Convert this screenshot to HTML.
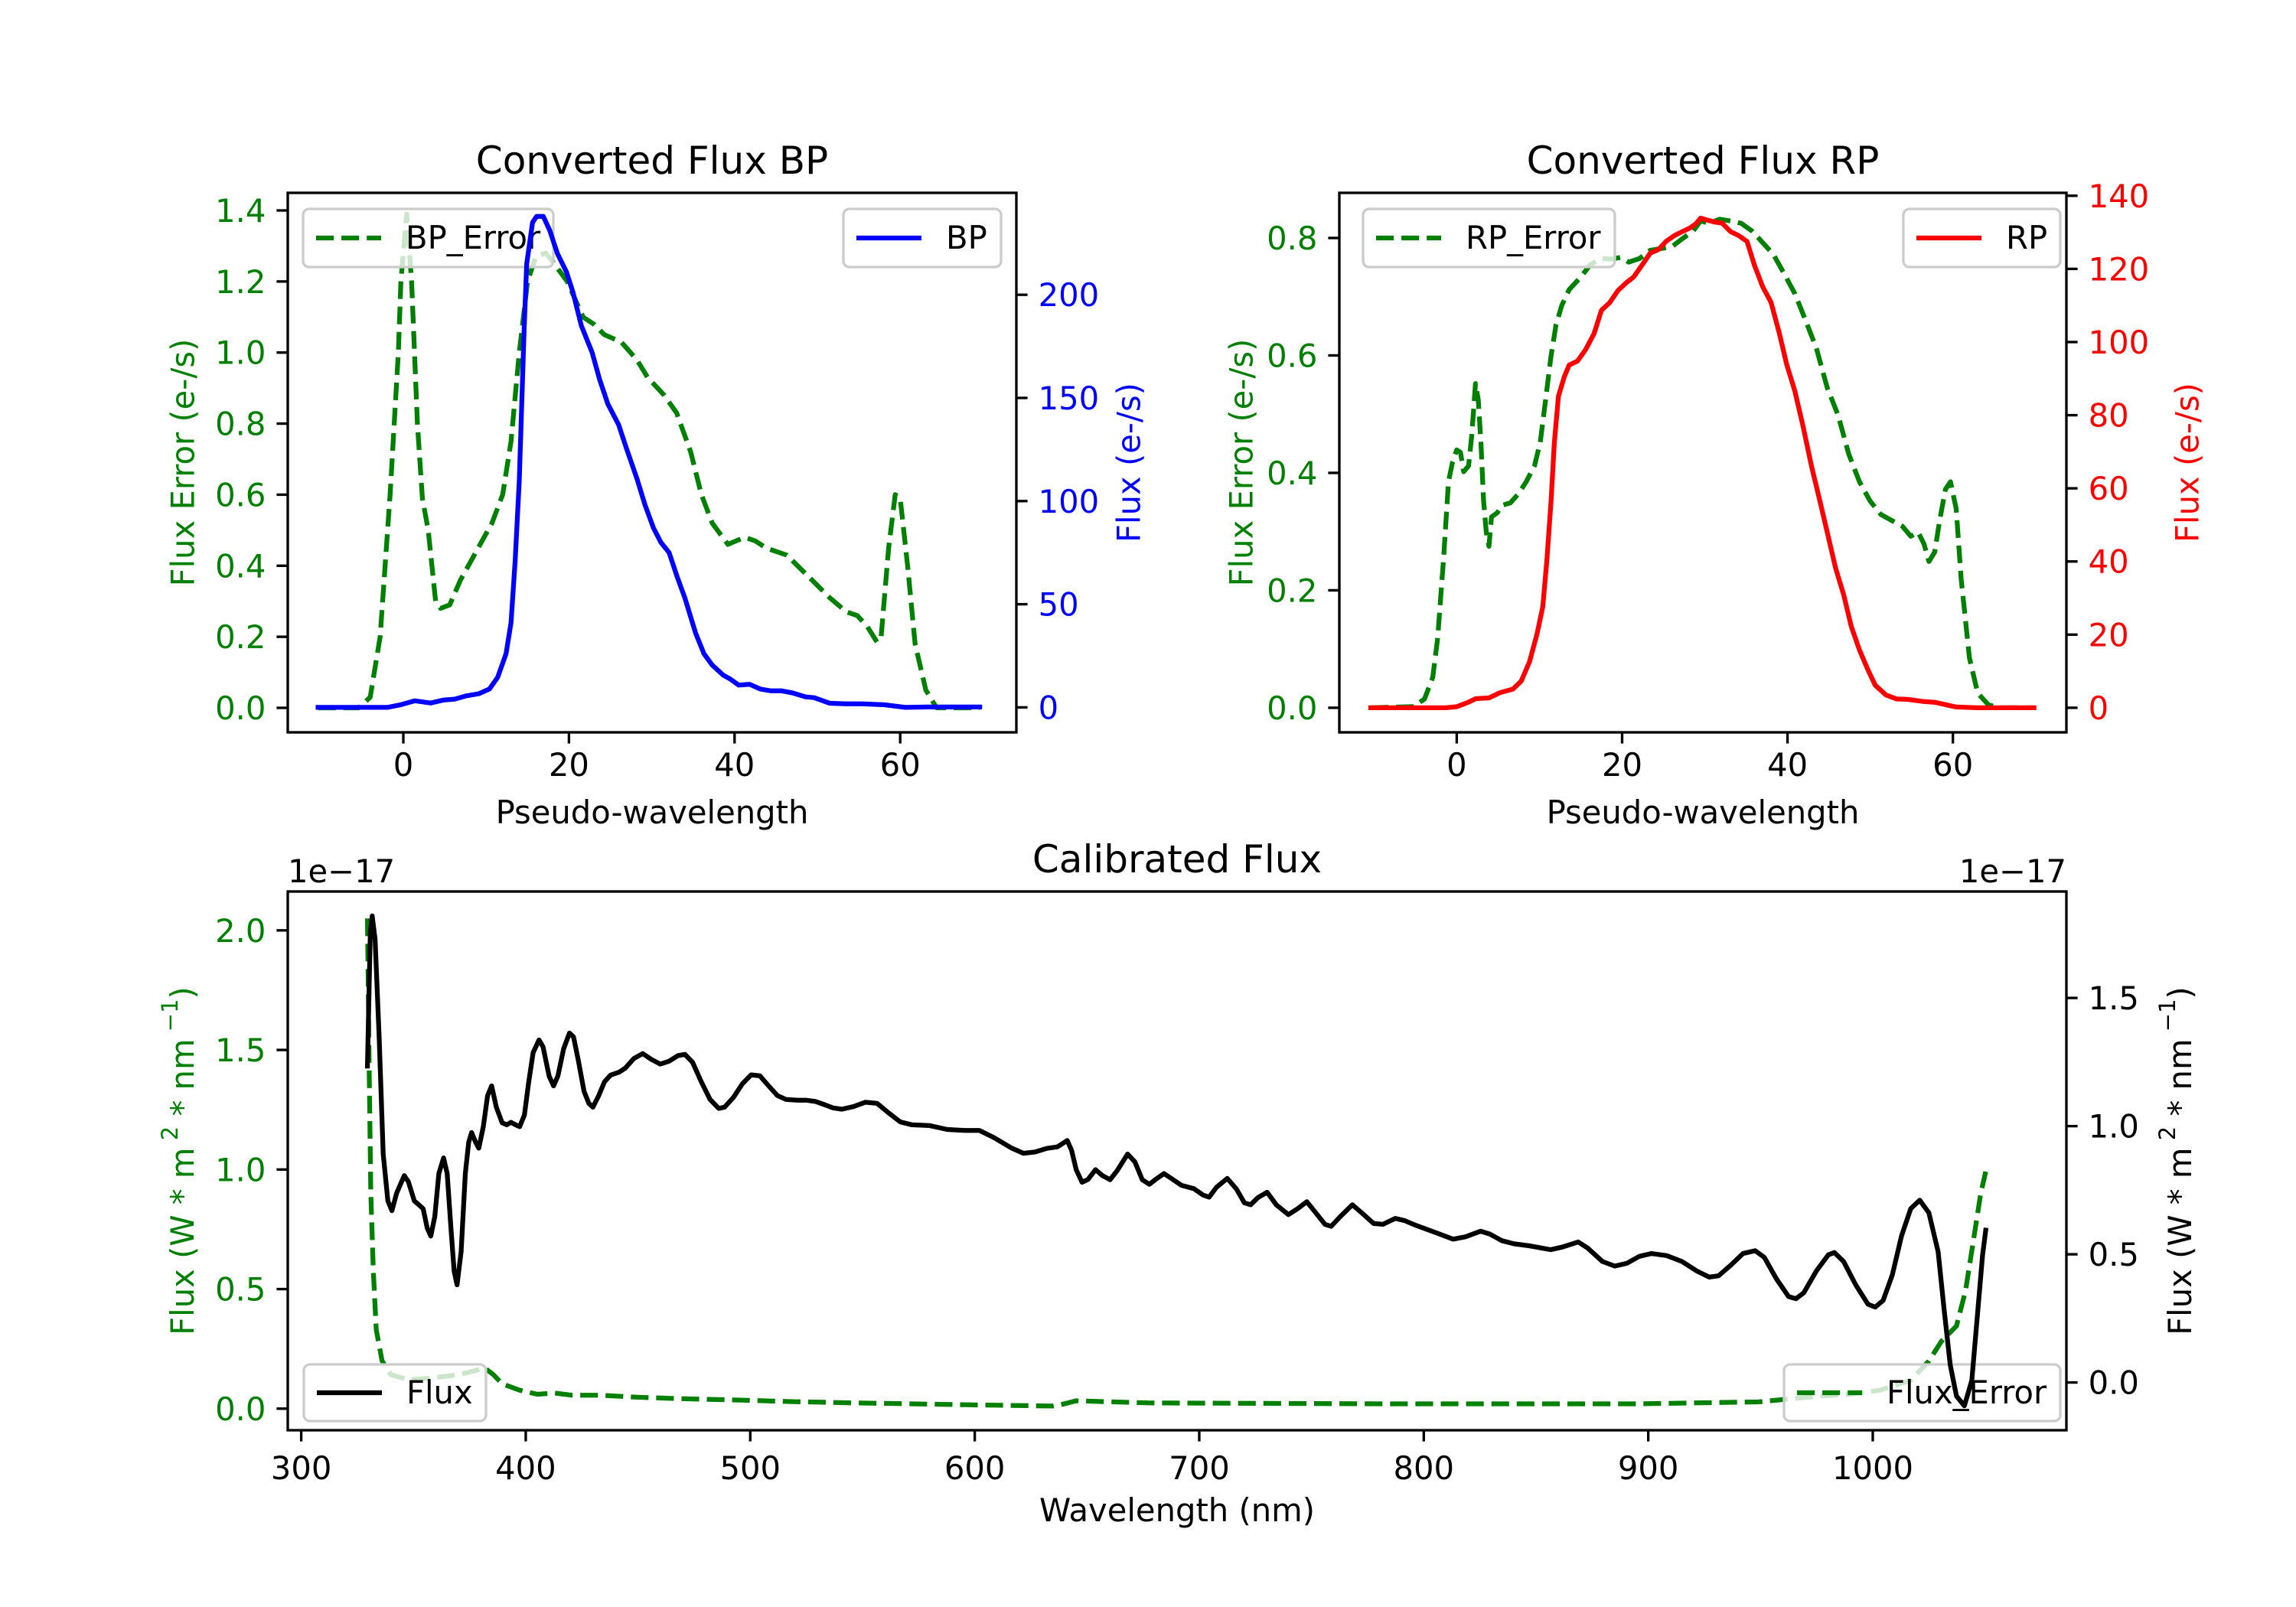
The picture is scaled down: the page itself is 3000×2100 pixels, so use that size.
<!DOCTYPE html>
<html><head><meta charset="utf-8">
<style>
html,body{margin:0;padding:0;background:#fff;}
svg{display:block;font-family:"DejaVu Sans","Liberation Sans",sans-serif;}
</style></head>
<body>
<svg id="fig" width="3000" height="2100" viewBox="0 0 3000 2100" xmlns="http://www.w3.org/2000/svg">
<rect width="3000" height="2100" fill="#fff"/>
</svg>
<script>
// ---------- DATA ----------
const bpErrX = [-10.3,-5.4,-4,-2.8,-1.6,-0.6,-0.3,0.4,1,1.7,2.3,3,3.9,4.5,5.6,6.9,8.8,10.7,12,13,14,15,16,17.2,17.9,19.8,21.7,23,24.3,26.3,28.2,29.5,31.5,33,34.7,36,37.3,39.2,41.2,42.5,43.8,46.3,48.9,51.5,53.5,54.8,56,57.2,57.7,58.6,59.4,60,60.9,61.8,63.1,64.4,69.6];
const bpErrY = [0,0,0.03,0.2,0.6,1.0,1.2,1.39,1.2,0.8,0.59,0.5,0.3,0.28,0.29,0.36,0.44,0.52,0.6,0.75,1.0,1.2,1.27,1.28,1.26,1.2,1.1,1.08,1.05,1.03,0.98,0.93,0.88,0.83,0.72,0.6,0.52,0.46,0.48,0.47,0.45,0.43,0.37,0.31,0.27,0.26,0.23,0.185,0.2,0.45,0.6,0.59,0.4,0.18,0.05,0,0];
const bpX = [-10.3,-1.9,-0.3,1.4,3.3,4.9,6.2,7.5,9.1,10.4,11.4,12.4,13.0,13.5,14.0,14.3,14.6,14.9,15.6,16.1,16.9,17.7,18.6,19.7,20.5,21.5,22.8,23.7,24.7,26.0,26.9,28.2,29.2,30.2,31.1,32.1,33.1,34.0,35.3,36.3,37.3,38.6,39.5,40.5,41.8,43.1,44.4,45.7,47.0,48.6,49.6,51.5,53.5,55.4,58.0,60.6,63.2,69.6];
const bpY = [0,0,1.3,3.2,2.1,3.6,4.0,5.5,6.6,8.9,14.6,26,41,71,110,147,185,215,235,238,238,231,220,211,201,185,172,159,147,137,126,111,98,87,80,75,63,53,36,26,20.5,15.7,13.7,10.8,11.2,8.9,8,8,7,5.1,4.7,2,1.7,1.7,1.3,0,0.2,0.2];
const rpErrX = [-10.4,-5.2,-3.9,-2.9,-2.3,-1.6,-1.0,-0.5,0,0.45,0.84,1.43,1.82,2.27,2.6,2.92,3.25,3.57,3.9,4.2,4.9,5.5,6.5,7.5,8.4,9.4,10.1,10.7,11.4,12.0,12.7,13.6,14.9,16.2,17.5,18.8,19.8,20.8,22.1,23.4,24.7,26.0,27.3,28.6,29.5,30.5,31.8,33.1,34.4,35.7,37.0,38.3,39.6,40.9,42.2,43.5,44.8,46.1,47.4,48.7,50.0,51.3,52.6,53.9,54.9,55.8,56.5,57.1,57.8,58.4,59.1,59.7,60.4,61.0,62.0,63.0,64.3,65.6,69.8];
const rpErrY = [0,0.002,0.015,0.052,0.119,0.252,0.385,0.419,0.439,0.435,0.402,0.412,0.465,0.552,0.525,0.452,0.352,0.299,0.275,0.325,0.332,0.345,0.349,0.365,0.385,0.412,0.452,0.519,0.599,0.652,0.685,0.712,0.732,0.755,0.765,0.764,0.767,0.759,0.765,0.779,0.782,0.785,0.799,0.812,0.829,0.825,0.832,0.829,0.825,0.812,0.792,0.772,0.739,0.705,0.659,0.612,0.545,0.499,0.432,0.385,0.352,0.329,0.319,0.309,0.292,0.299,0.279,0.249,0.265,0.319,0.372,0.385,0.339,0.219,0.085,0.025,0.005,0,0];
const rpX = [-10.4,-1.3,0,1.3,2.3,3.9,5.2,6.8,7.8,8.8,9.7,10.4,10.9,11.4,11.8,12.3,13.0,13.6,14.6,15.6,16.6,17.5,18.5,19.5,20.5,21.4,22.4,23.4,24.4,25.3,26.3,27.3,28.2,28.9,29.5,30.2,31.2,32.1,33.1,34.1,35.1,36.0,37.0,38.0,39.0,39.9,40.9,41.9,42.9,43.8,44.8,45.8,46.8,47.7,48.7,49.7,50.6,51.9,53.2,54.5,56.5,57.8,60.4,63.0,69.8];
const rpY = [0,0,0.3,1.4,2.5,2.7,4.1,5.1,7.3,12.6,20.1,27.6,40.4,56.4,72.4,85.2,90.5,93.7,94.8,98.0,102.3,108.7,110.8,114.1,116.2,117.8,121.0,124.3,125.3,127.5,129.1,130.2,131.2,132.3,133.9,133.4,132.8,132.5,130.2,129.1,127.5,121.0,115.1,110.9,102.5,93.9,86.5,76.8,66.1,57.6,48.0,38.3,30.8,22.3,15.8,10.5,6.2,3.5,2.4,2.3,1.7,1.5,0.2,0,0];
const calWave = [329.5,330.8,331.6,332.9,334.7,336.5,338.6,340.4,342.5,345.9,347.7,350.4,352.4,354.3,356.1,357.7,359.5,361.3,363.4,365.0,366.8,368.1,369.4,371.2,373.1,374.6,375.9,377.7,379.1,381.1,383.0,384.8,386.9,389.5,391.6,393.4,395.5,397.3,399.4,401.2,403.3,405.9,407.7,410.4,412.4,414.3,416.9,419.5,421.3,423.4,426.0,428.1,429.9,432.5,435.1,437.8,441.7,444.3,448.2,452.1,456.0,459.9,463.8,467.8,470.9,474.3,478.2,482.1,486.0,488.6,492.5,496.5,500.4,504.3,508.2,512.1,516.0,521.2,525.1,529.1,533.0,536.9,540.8,546.0,551.2,556.5,561.7,566.9,572.1,579.9,587.8,595.6,602.1,608.6,616.5,621.7,626.9,632.1,636.8,641.2,643.1,645.2,647.8,650.4,653.8,656.9,660.3,663.4,668.1,671.3,674.6,677.8,680.4,684.3,688.2,692.1,697.6,701.7,704.4,707.6,712.5,716.6,720.1,722.9,726.1,730.2,734.3,739.7,743.8,747.9,751.9,756.0,758.7,762.8,768.2,772.3,777.7,781.8,787.3,791.3,796.8,804.9,813.1,818.5,825.3,829.4,834.8,840.2,847.0,856.5,862.0,868.8,872.9,879.6,885.1,890.5,896.0,901.4,908.2,915.0,921.8,927.2,931.3,936.7,942.2,947.6,951.7,957.1,962.5,965.8,969.3,974.8,980.2,982.9,987.0,992.4,997.9,1001.1,1004.6,1008.7,1012.8,1016.9,1020.9,1025.0,1029.1,1031.8,1034.5,1037.3,1040.8,1044.1,1046.8,1048.9,1050.3];
const calFlux = [1.234,1.759,1.820,1.729,1.348,0.891,0.708,0.670,0.739,0.807,0.784,0.708,0.693,0.678,0.602,0.571,0.647,0.815,0.876,0.815,0.586,0.434,0.381,0.510,0.815,0.937,0.975,0.937,0.914,0.998,1.119,1.157,1.074,1.013,1.005,1.015,1.005,0.998,1.043,1.165,1.287,1.336,1.310,1.195,1.157,1.195,1.302,1.363,1.348,1.257,1.135,1.089,1.074,1.119,1.173,1.199,1.211,1.226,1.264,1.283,1.260,1.242,1.253,1.275,1.280,1.249,1.173,1.104,1.069,1.074,1.112,1.165,1.200,1.196,1.157,1.119,1.104,1.101,1.101,1.096,1.084,1.071,1.066,1.076,1.093,1.089,1.051,1.016,1.005,1.002,0.987,0.983,0.983,0.955,0.914,0.894,0.899,0.913,0.919,0.944,0.906,0.830,0.781,0.792,0.830,0.807,0.791,0.826,0.891,0.861,0.791,0.773,0.791,0.815,0.792,0.769,0.756,0.731,0.723,0.761,0.796,0.754,0.701,0.693,0.721,0.742,0.693,0.655,0.678,0.705,0.662,0.617,0.609,0.647,0.693,0.662,0.620,0.617,0.640,0.632,0.612,0.586,0.559,0.568,0.590,0.579,0.553,0.541,0.533,0.518,0.529,0.548,0.525,0.472,0.454,0.465,0.492,0.503,0.495,0.472,0.434,0.411,0.416,0.457,0.503,0.514,0.488,0.404,0.335,0.327,0.350,0.434,0.498,0.507,0.472,0.381,0.305,0.294,0.320,0.419,0.571,0.678,0.711,0.662,0.510,0.282,0.069,-0.053,-0.091,0.008,0.282,0.495,0.594];
const errWave = [329.5,330.3,331.0,332.1,333.4,336.0,339.9,347.7,355.6,366.0,373.8,381.7,385.6,389.5,397.3,405.1,413.0,420.8,433.8,446.9,467.8,493.8,519.9,546.0,572.1,598.2,634.7,639.9,645.2,677.2,785.9,894.6,948.9,976.1,989.7,1003.3,1016.9,1025.0,1030.5,1037.3,1041.3,1045.4,1048.1,1050.3];
const errFlux = [2.05,1.39,0.90,0.575,0.33,0.2,0.142,0.121,0.126,0.137,0.150,0.170,0.142,0.104,0.077,0.060,0.065,0.056,0.056,0.049,0.042,0.036,0.029,0.024,0.020,0.016,0.011,0.020,0.033,0.024,0.020,0.020,0.028,0.052,0.060,0.077,0.118,0.199,0.281,0.346,0.493,0.738,0.901,0.991];
const pwTicks = [0,20,40,60];
const bpErrTicks = [0,0.2,0.4,0.6,0.8,1.0,1.2,1.4];
const bpTicks = [0,50,100,150,200];
const rpErrTicks = [0,0.2,0.4,0.6,0.8];
const rpTicks = [0,20,40,60,80,100,120,140];
const waveTicks = [300,400,500,600,700,800,900,1000];
const calErrTicks = [0,0.5,1.0,1.5,2.0];
const calFluxTicks = [0,0.5,1.0,1.5];

// ---------- helpers ----------
const NS = "http://www.w3.org/2000/svg";
const svg = document.getElementById('fig');
const FS = 41.7, LW = 6.25, AXW = 3.33, TL = 14.6;
function mk(tag, attrs, parent){
  const e = document.createElementNS(NS, tag);
  for (const k in attrs) e.setAttribute(k, attrs[k]);
  (parent||svg).appendChild(e);
  return e;
}
function lin(d0,d1,p0,p1){ return v => p0 + (v-d0)*(p1-p0)/(d1-d0); }
function path(xs, ys, sx, sy){
  let d = '';
  for (let i=0;i<xs.length;i++) d += (i?'L':'M') + sx(xs[i]).toFixed(1)+','+sy(ys[i]).toFixed(1);
  return d;
}
function fmt(v,dec){ return v.toFixed(dec); }

function axesFrame(g, L,T,R,B){
  const r = mk('rect',{x:L,y:T,width:R-L,height:B-T,fill:'none',stroke:'#000','stroke-width':AXW},g);
  
  
}
function xTicks(g, ticks, sx, B, labelY, dec){
  ticks.forEach(t=>{
    const x = sx(t);
    const l = mk('line',{x1:x,x2:x,y1:B,y2:B+TL,stroke:'#000','stroke-width':AXW},g);
    
    
    const tx = mk('text',{x:x,y:labelY,'font-size':FS,'text-anchor':'middle',fill:'#000'},g);
    tx.textContent = dec==null? String(t) : fmt(t,dec);
    
    
  });
}
function yTicks(g, ticks, sy, edge, side, color, dec){
  ticks.forEach(t=>{
    const y = sy(t);
    const x2 = side==='left'? edge-TL : edge+TL;
    const l = mk('line',{x1:edge,x2:x2,y1:y,y2:y,stroke:'#000','stroke-width':AXW},g);
    
    
    const tx = mk('text',{x: side==='left'? edge-TL-14 : edge+TL+14, y:y+15,'font-size':FS,'text-anchor': side==='left'?'end':'start',fill:color},g);
    tx.textContent = fmt(t,dec);
    
    
  });
}
function yLabel(g, text, x, y, color, name){
  const t = mk('text',{x:x,y:y,'font-size':FS,'text-anchor':'middle',fill:color,transform:`rotate(-90 ${x} ${y})`,'dominant-baseline':'central'},g);
  t.textContent = text;
  
  
  return t;
}
function legend(g, L,T,W,H, label, color, dashed, name){
  const lg = mk('g',{},g);
  
  
  mk('rect',{x:L,y:T,width:W,height:H,rx:8,ry:8,fill:'#fff','fill-opacity':0.8,stroke:'#cccccc','stroke-width':3.3},lg);
  const cy = T+H/2;
  const ln = mk('line',{x1:L+17,x2:L+102,y1:cy,y2:cy,stroke:color,'stroke-width':LW},lg);
  if (dashed) ln.setAttribute('stroke-dasharray','23.1 10');
  const t = mk('text',{x:L+134,y:cy+14,'font-size':FS,fill:'#000'},lg);
  t.textContent = label;
}
function series(g, xs, ys, sx, sy, color, dashed, name){
  const p = mk('path',{d:path(xs,ys,sx,sy),fill:'none',stroke:color,'stroke-width':LW,'stroke-linejoin':'round','stroke-linecap': dashed?'butt':'square'},g);
  if (dashed) p.setAttribute('stroke-dasharray','23.1 10');
  
  
}
function title(g, text, x, y, name){
  const t = mk('text',{x:x,y:y,'font-size':50,'text-anchor':'middle',fill:'#000'},g);
  t.textContent = text;
  
  
}

// ---------- BP panel ----------
{
  const g = mk('g',{});
  
  
  const L=376,T=252,R=1328,B=957;
  const sx = lin(0,20,527,743.4);
  const syL = lin(0,1.4,925,275);
  const syR = lin(0,200,924.4,385.2);
  series(g,bpErrX,bpErrY,sx,syL,'#008000',true,'bp-error-line');
  legend(g,396,273,327,76,'BP_Error','#008000',true,'bp-error-legend');
  series(g,bpX,bpY,sx,syR,'#0000ff',false,'bp-flux-line');
  legend(g,1102,273,206,76,'BP','#0000ff',false,'bp-legend');
  axesFrame(g,L,T,R,B);
  xTicks(g,pwTicks,sx,B,1014);
  yTicks(g,bpErrTicks,syL,L,'left','#008000',1);
  yTicks(g,bpTicks,syR,R,'right','#0000ff',0);
  title(g,'Converted Flux BP',(L+R)/2,227,'bp-title');
  const xl = mk('text',{x:(L+R)/2,y:1076,'font-size':FS,'text-anchor':'middle',fill:'#000'},g);
  xl.textContent='Pseudo-wavelength';
  
  
  yLabel(g,'Flux Error (e-/s)',239,(T+B)/2,'#008000','bp-left-y-axis-title');
  yLabel(g,'Flux (e-/s)',1475,(T+B)/2,'#0000ff','bp-right-y-axis-title');
}

// ---------- RP panel ----------
{
  const g = mk('g',{});
  
  
  const L=1750,T=252,R=2700,B=957;
  const sx = lin(0,20,1903.4,2119.5);
  const syL = lin(0,0.8,924.9,311);
  const syR = lin(0,140,924.9,255.8);
  series(g,rpErrX,rpErrY,sx,syL,'#008000',true,'rp-error-line');
  legend(g,1781,273,329,76,'RP_Error','#008000',true,'rp-error-legend');
  series(g,rpX,rpY,sx,syR,'#ff0000',false,'rp-flux-line');
  legend(g,2487,273,205,76,'RP','#ff0000',false,'rp-legend');
  axesFrame(g,L,T,R,B);
  xTicks(g,pwTicks,sx,B,1014);
  yTicks(g,rpErrTicks,syL,L,'left','#008000',1);
  yTicks(g,rpTicks,syR,R,'right','#ff0000',0);
  title(g,'Converted Flux RP',(L+R)/2,227,'rp-title');
  const xl = mk('text',{x:(L+R)/2,y:1076,'font-size':FS,'text-anchor':'middle',fill:'#000'},g);
  xl.textContent='Pseudo-wavelength';
  
  
  yLabel(g,'Flux Error (e-/s)',1622,(T+B)/2,'#008000','rp-left-y-axis-title');
  yLabel(g,'Flux (e-/s)',2858,(T+B)/2,'#ff0000','rp-right-y-axis-title');
}

// ---------- Calibrated panel ----------
{
  const g = mk('g',{});
  
  
  const L=376,T=1165,R=2700,B=1869;
  const sx = lin(300,1000,393.6,2447);
  const syL = lin(0,1.0,1840.8,1528.3);
  const syR = lin(0,1.0,1806.6,1471.6);
  series(g,errWave,errFlux,sx,syL,'#008000',true,'flux-error-line');
  legend(g,2331,1783,361,74,'Flux_Error','#008000',true,'flux-error-legend');
  series(g,calWave,calFlux,sx,syR,'#000000',false,'flux-line');
  legend(g,397,1783,238,74,'Flux','#000000',false,'flux-legend');
  axesFrame(g,L,T,R,B);
  xTicks(g,waveTicks,sx,B,1933);
  yTicks(g,calErrTicks,syL,L,'left','#008000',1);
  yTicks(g,calFluxTicks,syR,R,'right','#000000',1);
  title(g,'Calibrated Flux',(L+R)/2,1140,'calibrated-title');
  const o1 = mk('text',{x:376,y:1153,'font-size':FS,fill:'#000'},g);
  o1.textContent='1e\u221217';
  
  
  const o2 = mk('text',{x:2700,y:1153,'font-size':FS,'text-anchor':'end',fill:'#000'},g);
  o2.textContent='1e\u221217';
  
  
  const xl = mk('text',{x:(L+R)/2,y:1988,'font-size':FS,'text-anchor':'middle',fill:'#000'},g);
  xl.textContent='Wavelength (nm)';
  
  
  [[238,'#008000','left-y-axis-title'],[2848,'#000000','right-y-axis-title']].forEach(([x,c,n])=>{
    const y=(T+B)/2;
    const t = mk('text',{x:x,y:y,'font-size':FS,'text-anchor':'middle',fill:c,transform:`rotate(-90 ${x} ${y})`,'dominant-baseline':'central'},g);
    
    
    const parts=[['Flux (W * m',0],['2',1],[' * nm',0],['\u22121',1],[')',0]];
    parts.forEach(([s,sup])=>{
      const ts = mk('tspan',{},t);
      if(sup){ ts.setAttribute('font-size',29); ts.setAttribute('dy',-16); }
      else if(ts.previousSibling){ ts.setAttribute('dy',16); }
      ts.textContent = sup? ' '+s : s;
    });
  });
}
</script>
</body></html>
